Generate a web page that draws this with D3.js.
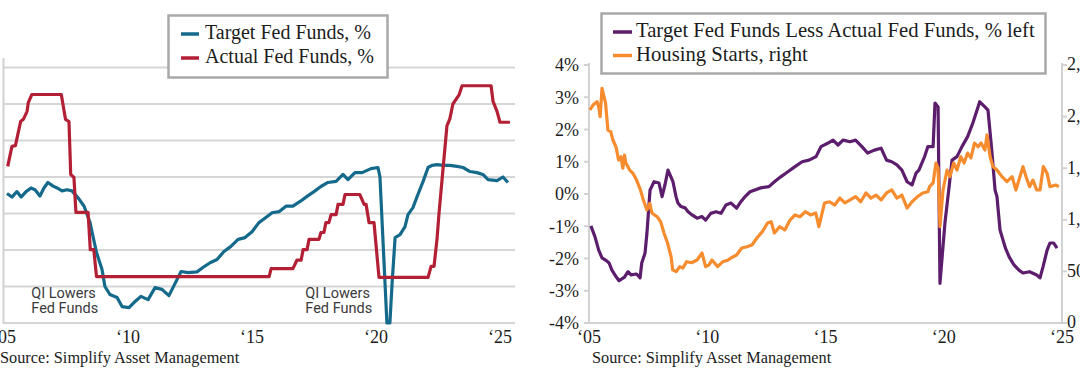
<!DOCTYPE html>
<html><head><meta charset="utf-8">
<script src="https://cdn.jsdelivr.net/npm/d3@7"></script>
<style>body{margin:0;background:#fff;overflow:hidden}svg{display:block}</style>
</head><body><svg id="c" width="1080" height="380"></svg>
<script>
// ---------- data ----------
const yearTicks = [2005, 2010, 2015, 2020, 2025];
const leftPctTicks = [-1, 0, 1, 2, 3, 4, 5, 6];
const rightPctTicks = [-4, -3, -2, -1, 0, 1, 2, 3, 4];
const housingTicks = [0, 500, 1000, 1500, 2000, 2500];

const leftLegend = ["Target Fed Funds, %", "Actual Fed Funds, %"];
const rightLegend = ["Target Fed Funds Less Actual Fed Funds, % left", "Housing Starts, right"];
const annotationLines = ["QI Lowers", "Fed Funds"];
const annotationYears = [2006.1, 2017.15];
const sourceText = "Source: Simplify Asset Management";

// Target Fed Funds, % [year, value]
const targetFedFunds = [
 [2005.12,2.55],[2005.32,2.45],[2005.52,2.60],[2005.69,2.45],[2005.89,2.60],[2006.09,2.70],
 [2006.25,2.65],[2006.45,2.48],[2006.61,2.70],[2006.77,2.85],[2006.98,2.75],[2007.14,2.70],
 [2007.34,2.62],[2007.54,2.65],[2007.74,2.62],[2008.02,2.40],[2008.23,2.20],[2008.47,1.75],
 [2008.59,1.37],[2008.73,0.93],[2008.95,0.47],[2009.07,0.00],[2009.27,-0.22],[2009.56,-0.30],
 [2009.76,-0.55],[2010.04,-0.58],[2010.24,-0.44],[2010.52,-0.27],[2010.81,-0.36],[2011.09,-0.03],
 [2011.37,-0.08],[2011.65,-0.25],[2011.94,0.14],[2012.14,0.41],[2012.42,0.38],[2012.78,0.40],
 [2013.02,0.52],[2013.31,0.65],[2013.59,0.74],[2013.87,0.96],[2014.15,1.10],[2014.44,1.29],
 [2014.72,1.34],[2015.00,1.50],[2015.28,1.75],[2015.56,1.89],[2015.81,2.02],[2016.09,2.05],
 [2016.37,2.20],[2016.65,2.20],[2016.94,2.33],[2017.22,2.47],[2017.50,2.60],[2017.78,2.74],
 [2018.06,2.85],[2018.39,2.88],[2018.67,3.07],[2018.87,2.93],[2019.15,3.12],[2019.44,3.12],
 [2019.80,3.23],[2020.08,3.26],[2020.16,3.00],[2020.44,-1.00],[2020.56,-1.00],[2020.65,0.10],
 [2020.77,1.34],[2020.97,1.42],[2021.17,1.64],[2021.29,1.97],[2021.49,2.16],[2021.69,2.52],
 [2021.90,2.88],[2022.10,3.26],[2022.26,3.32],[2022.46,3.34],[2022.70,3.32],[2022.98,3.32],
 [2023.27,3.29],[2023.51,3.26],[2023.79,3.15],[2024.07,3.12],[2024.31,3.07],[2024.52,2.93],
 [2024.88,2.90],[2025.12,3.00],[2025.32,2.85]
];

// Actual Fed Funds, % [year, value]
const actualFedFunds = [
 [2005.15,3.29],[2005.32,3.84],[2005.46,3.86],[2005.67,4.52],[2005.78,4.58],[2005.93,4.80],
 [2005.98,5.04],[2006.12,5.26],[2007.31,5.26],[2007.48,4.58],[2007.62,4.52],[2007.69,3.07],
 [2007.82,2.99],[2007.90,2.03],[2008.39,2.03],[2008.48,1.01],[2008.62,1.01],[2008.73,0.27],
 [2015.69,0.27],[2015.77,0.49],[2016.65,0.49],[2016.81,0.72],[2016.98,0.72],[2017.06,1.01],
 [2017.22,1.01],[2017.30,1.29],[2017.70,1.29],[2017.78,1.48],[2017.90,1.48],[2017.98,1.75],
 [2018.10,1.75],[2018.19,1.97],[2018.39,1.97],[2018.47,2.25],[2018.67,2.25],[2018.75,2.52],
 [2019.35,2.52],[2019.52,2.25],[2019.60,2.25],[2019.72,1.75],[2019.92,1.75],[2020.12,0.25],
 [2022.10,0.25],[2022.22,0.55],[2022.34,0.55],[2022.46,1.30],[2022.54,2.00],[2022.62,2.60],
 [2022.70,3.20],[2022.78,3.80],[2022.86,4.40],[2022.98,4.60],[2023.10,5.00],[2023.35,5.25],
 [2023.47,5.50],[2024.64,5.50],[2024.72,5.07],[2024.88,4.80],[2025.00,4.50],[2025.40,4.50]
];

// Target Fed Funds Less Actual Fed Funds, % [year, value]
const targetLessActual = [
 [2005.08,-0.99],[2005.25,-1.32],[2005.41,-1.74],[2005.55,-1.98],[2005.70,-2.05],[2005.85,-2.14],
 [2005.97,-2.36],[2006.14,-2.56],[2006.27,-2.69],[2006.50,-2.58],[2006.65,-2.41],[2006.78,-2.51],
 [2007.01,-2.48],[2007.16,-2.60],[2007.23,-2.14],[2007.37,-1.83],[2007.45,-1.21],[2007.58,0.12],
 [2007.75,0.38],[2007.96,0.34],[2008.09,-0.08],[2008.21,0.28],[2008.34,0.74],[2008.55,0.38],
 [2008.68,-0.08],[2008.76,-0.28],[2008.89,-0.39],[2009.06,-0.43],[2009.19,-0.55],[2009.36,-0.65],
 [2009.57,-0.75],[2009.78,-0.70],[2009.93,-0.81],[2010.15,-0.60],[2010.37,-0.55],[2010.58,-0.60],
 [2010.79,-0.34],[2011.00,-0.28],[2011.24,-0.44],[2011.38,-0.28],[2011.60,-0.08],[2011.81,0.07],
 [2012.26,0.19],[2012.61,0.23],[2012.84,0.38],[2013.12,0.54],[2013.41,0.69],[2013.71,0.85],
 [2014.01,1.00],[2014.30,1.05],[2014.60,1.16],[2014.81,1.47],[2015.11,1.58],[2015.32,1.67],
 [2015.53,1.52],[2015.74,1.67],[2016.04,1.62],[2016.27,1.67],[2016.54,1.47],[2016.78,1.27],
 [2017.07,1.36],[2017.35,1.42],[2017.58,1.05],[2017.80,1.00],[2018.02,0.90],[2018.23,0.74],
 [2018.45,0.38],[2018.66,0.28],[2018.83,0.65],[2018.95,0.74],[2019.19,1.16],[2019.33,1.47],
 [2019.55,1.47],[2019.63,2.82],[2019.76,2.70],[2019.84,-2.77],[2020.05,-0.90],[2020.21,0.12],
 [2020.35,1.05],[2020.56,1.16],[2020.77,1.47],[2021.01,1.78],[2021.23,2.20],[2021.45,2.70],
 [2021.52,2.86],[2021.74,2.70],[2021.87,2.60],[2022.03,1.36],[2022.17,0.12],[2022.25,-0.08],
 [2022.38,-1.12],[2022.61,-1.68],[2022.76,-1.94],[2022.97,-2.20],[2023.18,-2.36],[2023.35,-2.45],
 [2023.63,-2.41],[2023.93,-2.51],[2024.07,-2.60],[2024.20,-2.25],[2024.37,-1.74],[2024.49,-1.52],
 [2024.65,-1.52],[2024.79,-1.68]
];

// Housing Starts, thousands [year, value]
const housingStarts = [
 [2005.04,2064],[2005.17,2112],[2005.34,2144],[2005.41,2096],[2005.47,2000],[2005.55,2274],
 [2005.70,2130],[2005.80,1870],[2005.92,1854],[2006.01,1773],[2006.14,1708],[2006.25,1580],
 [2006.35,1611],[2006.43,1500],[2006.50,1628],[2006.56,1550],[2006.72,1482],[2006.86,1450],
 [2007.01,1385],[2007.16,1300],[2007.30,1192],[2007.45,1095],[2007.57,1160],[2007.66,1066],
 [2007.88,1030],[2008.03,982],[2008.17,872],[2008.32,775],[2008.47,643],[2008.54,514],
 [2008.68,497],[2008.84,546],[2008.97,533],[2009.13,594],[2009.34,584],[2009.57,610],
 [2009.78,678],[2009.93,546],[2010.07,562],[2010.20,610],[2010.44,546],[2010.66,594],
 [2010.88,610],[2011.00,630],[2011.24,659],[2011.46,727],[2011.68,739],[2011.89,756],
 [2012.10,824],[2012.33,885],[2012.55,969],[2012.70,982],[2012.84,872],[2013.06,933],
 [2013.28,901],[2013.50,998],[2013.71,1047],[2013.92,1030],[2014.15,1079],[2014.37,1047],
 [2014.59,1066],[2014.72,933],[2014.96,1163],[2015.17,1175],[2015.39,1143],[2015.61,1211],
 [2015.82,1163],[2016.04,1192],[2016.27,1224],[2016.49,1175],[2016.71,1260],[2016.92,1211],
 [2017.14,1240],[2017.35,1192],[2017.58,1260],[2017.80,1289],[2018.02,1211],[2018.23,1240],
 [2018.45,1114],[2018.66,1175],[2018.89,1224],[2019.11,1260],[2019.33,1272],[2019.40,1321],
 [2019.55,1357],[2019.67,1550],[2019.76,1500],[2019.84,933],[2019.97,1289],[2020.14,1482],
 [2020.26,1418],[2020.42,1550],[2020.56,1482],[2020.72,1611],[2020.86,1550],[2021.01,1647],
 [2021.15,1599],[2021.30,1744],[2021.45,1708],[2021.58,1744],[2021.74,1676],[2021.83,1822],
 [2021.96,1611],[2022.08,1515],[2022.25,1482],[2022.46,1418],[2022.67,1369],[2022.89,1418],
 [2023.05,1289],[2023.18,1385],[2023.35,1515],[2023.48,1418],[2023.63,1321],[2023.77,1385],
 [2023.93,1289],[2024.07,1289],[2024.21,1515],[2024.37,1450],[2024.49,1321],[2024.73,1337],
 [2024.87,1321]
];

// ---------- styles ----------
const SERIF = "'Liberation Serif', 'DejaVu Serif', serif";
const SANS = "Roboto, 'Noto Sans', sans-serif";
const COL = {blue:"#156a8c", red:"#b32036", purple:"#5c1d6c", orange:"#f78c2e",
             grid:"#d6d6d6", axis:"#d2d2d2", text:"#1c1c1c", box:"#a9a9a9", note:"#3a3a3a"};

const svg = d3.select("#c");
svg.append("rect").attr("width",1080).attr("height",380).attr("fill","#fff");

const yearLabel = y => "\u2018" + String(y).slice(2);

// ================= LEFT PANEL =================
const xL = d3.scaleLinear().domain([2005, 2025]).range([4, 500]);
const yL = d3.scaleLinear().domain([-1, 6]).range([323, 67.5]);
const L = svg.append("g");

L.selectAll("line.grid").data(leftPctTicks).join("line")
  .attr("x1", 4).attr("x2", 515)
  .attr("y1", d => yL(d)).attr("y2", d => yL(d))
  .attr("stroke", COL.grid).attr("stroke-width", 2);
L.append("line").attr("x1",3.5).attr("x2",3.5).attr("y1",58).attr("y2",yL(-1)+1)
  .attr("stroke", COL.axis).attr("stroke-width", 2);

L.selectAll("text.xt").data(yearTicks).join("text")
  .attr("x", d => xL(d)).attr("y", 343)
  .attr("text-anchor","middle").attr("font-family",SERIF).attr("font-size",18)
  .attr("fill",COL.text).text(yearLabel);

const lineL = d3.line().x(d => xL(d[0])).y(d => yL(d[1]));
L.append("path").datum(targetFedFunds).attr("d", lineL).attr("fill","none")
  .attr("stroke", COL.blue).attr("stroke-width", 3.2).attr("stroke-linejoin","round");
L.append("path").datum(actualFedFunds).attr("d", lineL).attr("fill","none")
  .attr("stroke", COL.red).attr("stroke-width", 3.2).attr("stroke-linejoin","round");

// annotations
annotationYears.forEach(yr => {
  annotationLines.forEach((s,i) => {
    L.append("text").attr("font-family",SANS).attr("font-size",14.5)
      .attr("fill",COL.note).attr("x", xL(yr)).attr("y", 297.5 + i*15.5).text(s);
  });
});

// legend
const lgL = L.append("g");
lgL.append("rect").attr("x",168.5).attr("y",15.5).attr("width",219).attr("height",62)
  .attr("fill","#fff").attr("stroke",COL.box).attr("stroke-width",2.5);
[COL.blue, COL.red].forEach((c,i) => {
  lgL.append("line").attr("x1",181).attr("x2",199).attr("y1",34+i*24).attr("y2",34+i*24)
    .attr("stroke",c).attr("stroke-width",3.5);
  lgL.append("text").attr("x",205).attr("y",39+i*24).attr("font-family",SERIF)
    .attr("font-size",20).attr("fill",COL.text).text(leftLegend[i]);
});

L.append("text").attr("x",0).attr("y",363).attr("font-family",SERIF).attr("font-size",16.3)
  .attr("fill",COL.text).text(sourceText);

// ================= RIGHT PANEL =================
const xR = d3.scaleLinear().domain([2005, 2025]).range([589, 1062]);
const yR = d3.scaleLinear().domain([-4, 4]).range([323, 65]);
const yH = d3.scaleLinear().domain([0, 2500]).range([323, 65]);
const R = svg.append("g");

R.append("line").attr("x1",589).attr("x2",589).attr("y1",yR(4)-2).attr("y2",323)
  .attr("stroke",COL.axis).attr("stroke-width",2);
R.append("line").attr("x1",1062).attr("x2",1062).attr("y1",yH(2500)-2).attr("y2",323)
  .attr("stroke",COL.axis).attr("stroke-width",2);
R.append("line").attr("x1",588).attr("x2",1063).attr("y1",323).attr("y2",323)
  .attr("stroke",COL.axis).attr("stroke-width",2);

R.selectAll("line.lt").data(rightPctTicks).join("line")
  .attr("x1",584).attr("x2",589).attr("y1",d=>yR(d)).attr("y2",d=>yR(d))
  .attr("stroke",COL.axis).attr("stroke-width",2);
R.selectAll("text.lt").data(rightPctTicks).join("text")
  .attr("x",579).attr("y",d=>yR(d)).attr("dy","0.35em").attr("text-anchor","end")
  .attr("font-family",SERIF).attr("font-size",18).attr("fill",COL.text)
  .text(d => d + "%");

R.selectAll("line.rt").data(housingTicks).join("line")
  .attr("x1",1062).attr("x2",1067).attr("y1",d=>yH(d)).attr("y2",d=>yH(d))
  .attr("stroke",COL.axis).attr("stroke-width",2);
R.selectAll("text.rt").data(housingTicks).join("text")
  .attr("x",1067).attr("y",d=>yH(d)).attr("dy","0.3em").attr("text-anchor","start")
  .attr("font-family",SERIF).attr("font-size",18).attr("fill",COL.text)
  .text(d3.format(","));

R.selectAll("text.xt").data(yearTicks).join("text")
  .attr("x", d => xR(d)).attr("y", 343)
  .attr("text-anchor","middle").attr("font-family",SERIF).attr("font-size",18)
  .attr("fill",COL.text).text(yearLabel);

R.append("path").datum(targetLessActual)
  .attr("d", d3.line().x(d=>xR(d[0])).y(d=>yR(d[1])))
  .attr("fill","none").attr("stroke",COL.purple).attr("stroke-width",3.2).attr("stroke-linejoin","round");
R.append("path").datum(housingStarts)
  .attr("d", d3.line().x(d=>xR(d[0])).y(d=>yH(d[1])))
  .attr("fill","none").attr("stroke",COL.orange).attr("stroke-width",3.2).attr("stroke-linejoin","round");

const lgR = R.append("g");
lgR.append("rect").attr("x",601.5).attr("y",13.5).attr("width",444).attr("height",60)
  .attr("fill","#fff").attr("stroke",COL.box).attr("stroke-width",2.5);
[COL.purple, COL.orange].forEach((c,i) => {
  lgR.append("line").attr("x1",613).attr("x2",632).attr("y1",32+i*23.5).attr("y2",32+i*23.5)
    .attr("stroke",c).attr("stroke-width",3.5);
  lgR.append("text").attr("x",636).attr("y",37+i*23.5).attr("font-family",SERIF)
    .attr("font-size",20.7).attr("fill",COL.text).text(rightLegend[i]);
});

R.append("text").attr("x",592).attr("y",363).attr("font-family",SERIF).attr("font-size",16.3)
  .attr("fill",COL.text).text(sourceText);
</script></body></html>
